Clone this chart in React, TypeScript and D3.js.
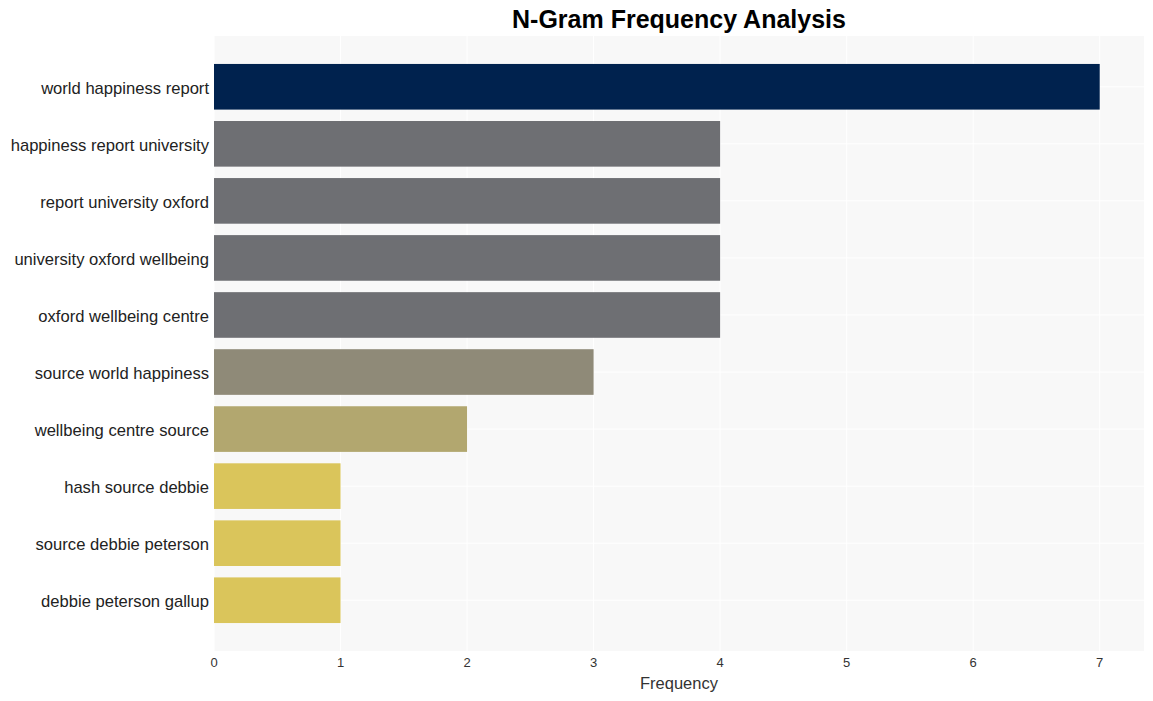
import React from "react";
import * as d3 from "d3";

const W = 1153;
const H = 701;
const MARGINS = { top: 36, right: 9, bottom: 50, left: 214 };

const ngrams = [
  "world happiness report",
  "happiness report university",
  "report university oxford",
  "university oxford wellbeing",
  "oxford wellbeing centre",
  "source world happiness",
  "wellbeing centre source",
  "hash source debbie",
  "source debbie peterson",
  "debbie peterson gallup",
];
const counts = [7, 4, 4, 4, 4, 3, 2, 1, 1, 1];
const barColors = [
  "#00224e",
  "#6e6f73",
  "#6e6f73",
  "#6e6f73",
  "#6e6f73",
  "#8f8a78",
  "#b2a76f",
  "#dac55b",
  "#dac55b",
  "#dac55b",
];
const xTicks = [0, 1, 2, 3, 4, 5, 6, 7];

const App = () => {
  const width = W - MARGINS.left - MARGINS.right;
  const height = H - MARGINS.top - MARGINS.bottom;

  const x = d3.scaleLinear().domain([0, 7.35]).range([0, width]);

  // matplotlib-like band: bar height 0.8, 5% margins
  const step = height / (ngrams.length - 1 + 0.8 + 0.98);
  const yCenter = (i: number) => (0.89 + i) * step;
  const barH = step * 0.8;

  return (
    <svg
      width={W}
      height={H}
      style={{ position: "absolute", left: 0, top: 0, background: "#fff" }}
      fontFamily="Liberation Sans, Arial, sans-serif"
    >
      <text
        x={MARGINS.left + width / 2}
        y={28}
        textAnchor="middle"
        fontSize={25}
        fontWeight="bold"
        fill="#000"
      >
        N-Gram Frequency Analysis
      </text>
      <g transform={`translate(${MARGINS.left}, ${MARGINS.top})`}>
        <rect width={width} height={height} fill="#f8f8f8" />
        {xTicks.map((t) => (
          <line
            key={`gx${t}`}
            x1={x(t)}
            x2={x(t)}
            y1={0}
            y2={height}
            stroke="#fff"
            strokeWidth={1}
          />
        ))}
        {ngrams.map((_, i) => (
          <line
            key={`gy${i}`}
            x1={0}
            x2={width}
            y1={yCenter(i)}
            y2={yCenter(i)}
            stroke="#fff"
            strokeWidth={1}
          />
        ))}
        {ngrams.map((name, i) => (
          <rect
            key={name}
            x={x(0)}
            y={yCenter(i) - barH / 2}
            width={x(counts[i]) - x(0)}
            height={barH}
            fill={barColors[i]}
          />
        ))}
        {ngrams.map((name, i) => (
          <text
            key={`l${name}`}
            x={-5}
            y={yCenter(i) + 1}
            dy="0.35em"
            textAnchor="end"
            fontSize={16.6}
            fill="#222"
          >
            {name}
          </text>
        ))}
        {xTicks.map((t) => (
          <text
            key={`tx${t}`}
            x={x(t)}
            y={height + 16}
            textAnchor="middle"
            fontSize={13}
            fill="#333"
          >
            {t}
          </text>
        ))}
        <text
          x={width / 2}
          y={height + 38}
          textAnchor="middle"
          fontSize={16.5}
          fill="#333"
        >
          Frequency
        </text>
      </g>
    </svg>
  );
};

export default App;
